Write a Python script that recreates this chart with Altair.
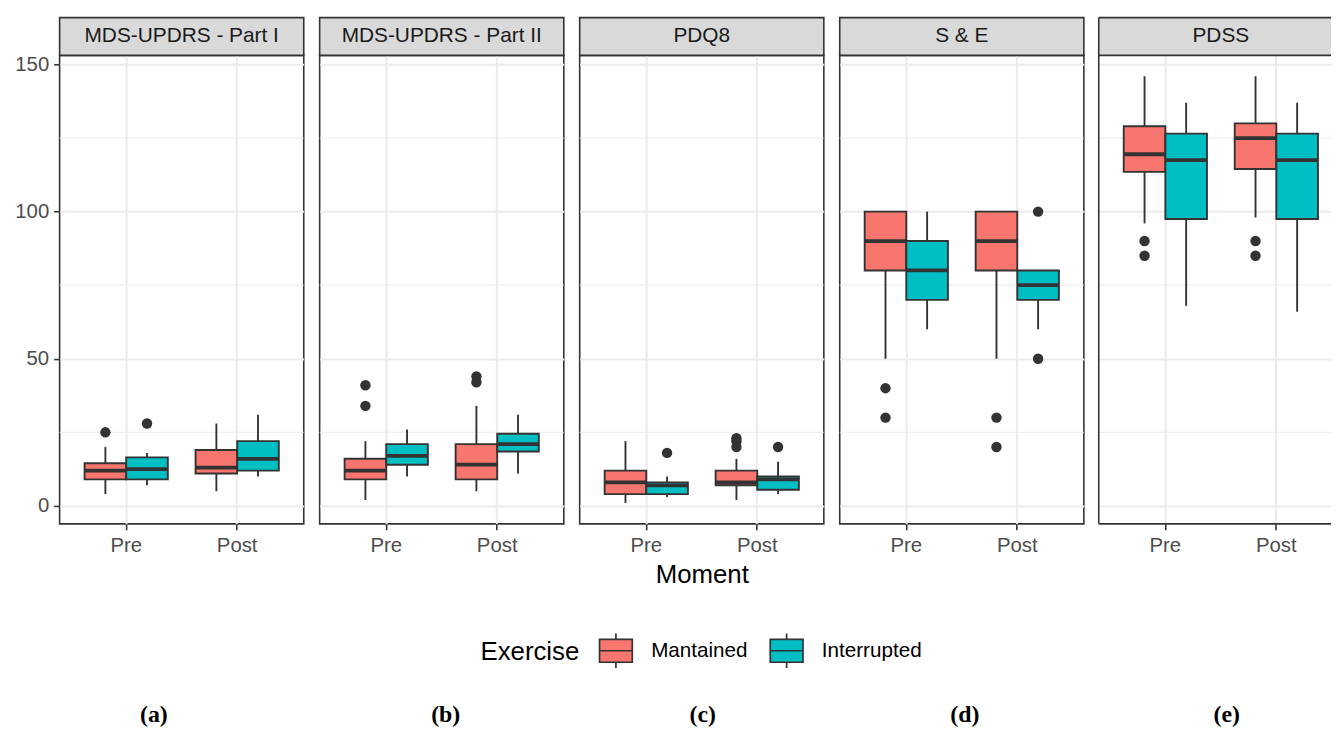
import altair as alt
import pandas as pd

# ---------------- data ----------------
PANELS = ["MDS-UPDRS - Part I", "MDS-UPDRS - Part II", "PDQ8", "S & E", "PDSS"]
LETTERS = ["(a)", "(b)", "(c)", "(d)", "(e)"]
MOMENTS = ["Pre", "Post"]
GROUPS = ["Mantained", "Interrupted"]
COLORS = ["#F8766D", "#00BFC4"]
CELLS = [("Pre", "Mantained"), ("Pre", "Interrupted"), ("Post", "Mantained"), ("Post", "Interrupted")]

# per panel, order: Pre-Mantained, Pre-Interrupted, Post-Mantained, Post-Interrupted
LOWER = [[4, 7, 5, 10], [2, 10, 5, 11], [1, 3, 2, 4], [50, 60, 50, 60], [96, 68, 98, 66]]
Q1 = [[9, 9, 11, 12], [9, 14, 9, 18.5], [4, 4, 7, 5.5], [80, 70, 80, 70], [113.5, 97.5, 114.5, 97.5]]
MEDIAN = [[12, 12.5, 13, 16], [12, 17, 14, 21], [8, 7, 8, 9], [90, 80, 90, 75], [119.5, 117.5, 125, 117.5]]
Q3 = [[14.5, 16.5, 19, 22], [16, 21, 21, 24.5], [12, 8, 12, 10], [100, 90, 100, 80], [129, 126.5, 130, 126.5]]
UPPER = [[20, 18, 28, 31], [22, 26, 34, 31], [22, 10, 16, 15], [100, 100, 100, 80], [146, 137, 146, 137]]
OUTLIERS = [
    [[25], [28], [], []],
    [[34, 41], [], [42, 44], []],
    [[], [18], [20, 22, 23], [20]],
    [[30, 40], [], [20, 30], [50, 100]],
    [[85, 90], [], [85, 90], []],
]
MAJOR_TICKS = [0, 50, 100, 150]
MINOR_GRID = [25, 75, 125]
Y_DOMAIN = [-6.1, 153.1]

# ---------------- layout ----------------
W = 246
W_LAST = 234
H = 472
GAP = 12
STEP = W / 2.2
PAD_IN = 0.25
SUB = STEP * (1 - PAD_IN) / 2
STRIP = 38
LETTER_X = [95, 127, 124, 126, 129]
LETTER_Y = 671.5
DARK = "#333333"
GRID = "#ebebeb"
SMALL = 20.5

BOX_PATH = "M-1,-0.7H1V0.7H-1Z M-1,0H1 M0,-0.7V-1.05 M0,0.7V1.05"

box_rows, out_rows = [], []
for p, name in enumerate(PANELS):
    for c, (m, g) in enumerate(CELLS):
        box_rows.append(dict(panel=name, Moment=m, Exercise=g, lower=LOWER[p][c], q1=Q1[p][c],
                             median=MEDIAN[p][c], q3=Q3[p][c], upper=UPPER[p][c]))
        for v in OUTLIERS[p][c]:
            out_rows.append(dict(panel=name, Moment=m, Exercise=g, value=v))
box_df = pd.DataFrame(box_rows)
out_df = pd.DataFrame(out_rows)
minor_df = pd.DataFrame({"v": MINOR_GRID})

yscale = alt.Scale(domain=Y_DOMAIN, nice=False, zero=False)

legend = alt.Legend(
    title="Exercise", orient="none", legendX=424, legendY=582, direction="horizontal",
    titleOrient="left", titleFontSize=26, titleFontWeight="normal", titleColor="black",
    titlePadding=19, titleBaseline="middle", titleAnchor="middle",
    labelFontSize=20.8, labelColor="black", labelOffset=18, columnPadding=18,
    symbolType=BOX_PATH, symbolSize=1089, symbolStrokeColor=DARK, symbolStrokeWidth=1.7,
    symbolOpacity=1,
)
fill_enc = alt.Fill("Exercise:N", sort=GROUPS, scale=alt.Scale(domain=GROUPS, range=COLORS), legend=legend)


def panel(i):
    name = PANELS[i]
    wd = W if i < 4 else W_LAST
    outer_total = wd - STEP * (2 - PAD_IN)
    pad_out = outer_total / (2 * STEP)
    align = (STEP * (0.6 - (1 - PAD_IN) / 2)) / outer_total

    bd = box_df[box_df.panel == name]
    od = out_df[out_df.panel == name]

    if i == 0:
        yaxis = alt.Axis(values=MAJOR_TICKS, title=None, labelFontSize=SMALL, labelColor="#4d4d4d",
                         tickColor=DARK, tickSize=6, tickWidth=1.6, labelPadding=5, domain=False,
                         grid=True, gridColor=GRID, gridWidth=2)
    else:
        yaxis = alt.Axis(values=MAJOR_TICKS, title=None, labels=False, ticks=False, domain=False,
                         grid=True, gridColor=GRID, gridWidth=2, tickSize=0, labelPadding=0,
                         minExtent=0, maxExtent=0)
    xaxis_kw = dict(labelFontSize=SMALL, labelColor="#4d4d4d", labelAngle=0, tickColor=DARK, tickSize=6,
                    tickWidth=1.6, labelPadding=6, domain=False, grid=True, gridColor=GRID,
                    gridWidth=2, bandPosition=0.5, titleFontSize=26, titleFontWeight="normal",
                    titleColor="black", titlePadding=6)
    if i == 2:
        xaxis = alt.Axis(title="Moment", **xaxis_kw)
    else:
        xaxis = alt.Axis(title=None, **xaxis_kw)

    xenc = alt.X("Moment:N", sort=MOMENTS,
                 scale=alt.Scale(type="band", domain=MOMENTS, paddingInner=PAD_IN,
                                 paddingOuter=pad_out, align=align),
                 axis=xaxis)
    xoff = alt.XOffset("Exercise:N", sort=GROUPS,
                       scale=alt.Scale(domain=GROUPS, paddingInner=0, paddingOuter=0))

    minor = alt.Chart(minor_df).mark_rule(color=GRID, strokeWidth=1).encode(
        y=alt.Y("v:Q", scale=yscale, axis=yaxis))
    whisk = alt.Chart(bd).mark_rule(color=DARK, strokeWidth=1.9).encode(
        x=xenc, xOffset=xoff, y=alt.Y("lower:Q", scale=yscale, axis=yaxis), y2="upper:Q")
    boxes = alt.Chart(bd).mark_bar(stroke=DARK, strokeWidth=1.9, opacity=1).encode(
        x=xenc, xOffset=xoff, y=alt.Y("q1:Q", scale=yscale, axis=yaxis), y2="q3:Q", fill=fill_enc)
    meds = alt.Chart(bd).mark_tick(color=DARK, thickness=3.8, size=SUB, orient="horizontal",
                                   opacity=1).encode(
        x=xenc, xOffset=xoff, y=alt.Y("median:Q", scale=yscale, axis=yaxis))
    layers = [minor, whisk, boxes, meds]
    if len(od):
        pts = alt.Chart(od).mark_circle(color=DARK, size=110, opacity=1).encode(
            x=xenc, xOffset=xoff, y=alt.Y("value:Q", scale=yscale, axis=yaxis))
        layers.append(pts)

    sdf = pd.DataFrame({"t": [name]})
    if i < 4:
        strip = alt.Chart(sdf).mark_rect(fill="#d9d9d9", stroke=DARK, strokeWidth=1.6).encode(
            x=alt.value(0), x2=alt.value(wd), y=alt.value(-STRIP), y2=alt.value(0))
        layers.append(strip)
    else:
        strip = alt.Chart(sdf).mark_rect(fill="#d9d9d9").encode(
            x=alt.value(0), x2=alt.value(wd), y=alt.value(-STRIP), y2=alt.value(0))
        layers.append(strip)
        for enc in [dict(x=alt.value(0), y=alt.value(-STRIP), y2=alt.value(H)),
                    dict(x=alt.value(0), x2=alt.value(wd), y=alt.value(-STRIP)),
                    dict(x=alt.value(0), x2=alt.value(wd), y=alt.value(0)),
                    dict(x=alt.value(0), x2=alt.value(wd), y=alt.value(H))]:
            layers.append(alt.Chart(sdf).mark_rule(color=DARK, strokeWidth=1.6).encode(**enc))
    stext = alt.Chart(sdf).mark_text(fontSize=21, color="#1a1a1a", baseline="middle").encode(
        x=alt.value(W / 2), y=alt.value(-STRIP / 2), text="t:N")
    layers.append(stext)
    ldf = pd.DataFrame({"t": [LETTERS[i]]})
    letter = alt.Chart(ldf).mark_text(fontSize=24, font="Liberation Serif", fontWeight="bold",
                                      color="black", baseline="alphabetic").encode(
        x=alt.value(LETTER_X[i]), y=alt.value(LETTER_Y), text="t:N")
    layers.append(letter)

    ch = alt.layer(*layers).properties(width=wd, height=H)
    if i == 4:
        ch = ch.properties(view=alt.ViewBackground(strokeOpacity=0))
    return ch


chart = alt.hconcat(*[panel(i) for i in range(5)], spacing=GAP).resolve_scale(
    fill="shared").properties(
    padding={"left": 5, "top": 5, "right": 0, "bottom": 0}
).configure(font="Liberation Sans").configure_view(stroke=DARK, strokeWidth=1.6)

chart.save("out.html", embed_options={"renderer": "svg", "actions": False})
